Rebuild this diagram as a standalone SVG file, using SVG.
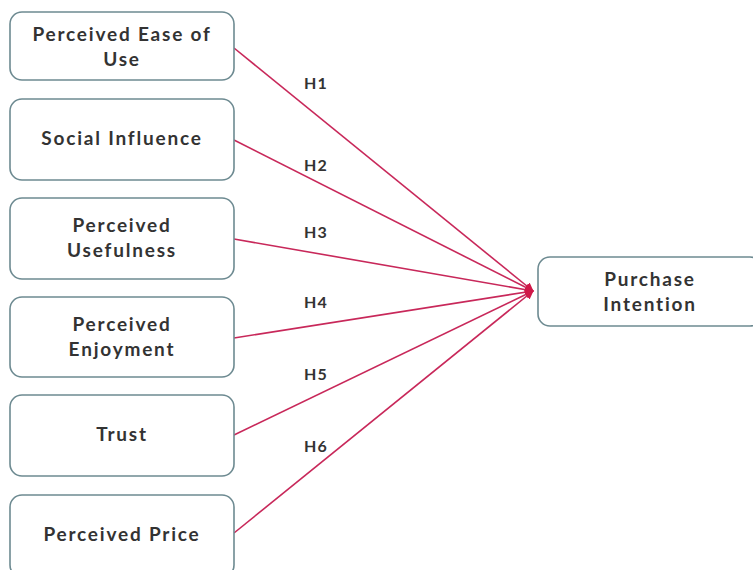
<svg xmlns="http://www.w3.org/2000/svg" width="753" height="570" viewBox="0 0 753 570">
  <style>
    .box { fill: #ffffff; stroke: #6d8a91; stroke-width: 1.6; }
    .lbl { font-family: Lato, "Open Sans", "Liberation Sans", sans-serif; font-weight: bold; font-size: 19px; letter-spacing: 1.8px; fill: #333333; text-anchor: middle; }
    .h { font-family: Lato, "Open Sans", "Liberation Sans", sans-serif; font-weight: bold; font-size: 16px; letter-spacing: 1.2px; fill: #333333; text-anchor: middle; }
    .edge { stroke: #c8285a; stroke-width: 1.6; fill: none; marker-end: url(#tip); }
  </style>
  <defs>
    <marker id="tip" viewBox="0 0 10 10" refX="9" refY="5" markerWidth="5.5" markerHeight="5.5" orient="auto" markerUnits="strokeWidth">
      <path d="M0,0 L10,5 L0,10 z" fill="#d01848"/>
    </marker>
  </defs>
  <rect width="753" height="570" fill="#ffffff"/>

  <g id="connectors">
    <line class="edge" x1="234" y1="48" x2="533" y2="291"/>
    <line class="edge" x1="234" y1="140" x2="533" y2="291"/>
    <line class="edge" x1="234" y1="239" x2="533" y2="291"/>
    <line class="edge" x1="234" y1="338" x2="533" y2="291"/>
    <line class="edge" x1="234" y1="435" x2="533" y2="291"/>
    <line class="edge" x1="234" y1="533" x2="533" y2="291"/>
    <text class="h" x="316" y="89">H1</text>
    <text class="h" x="316" y="171">H2</text>
    <text class="h" x="316" y="238">H3</text>
    <text class="h" x="316" y="308">H4</text>
    <text class="h" x="316" y="380">H5</text>
    <text class="h" x="316" y="452">H6</text>
  </g>

  <g id="peou">
    <rect class="box" x="10" y="12" width="224" height="68" rx="12"/>
    <text class="lbl" x="122" y="41">Perceived Ease of</text>
    <text class="lbl" x="122" y="66">Use</text>
  </g>
  <g id="social">
    <rect class="box" x="10" y="99" width="224" height="81" rx="12"/>
    <text class="lbl" x="122" y="145">Social Influence</text>
  </g>
  <g id="pu">
    <rect class="box" x="10" y="198" width="224" height="81" rx="12"/>
    <text class="lbl" x="122" y="232">Perceived</text>
    <text class="lbl" x="122" y="257">Usefulness</text>
  </g>
  <g id="pe">
    <rect class="box" x="10" y="297" width="224" height="80" rx="12"/>
    <text class="lbl" x="122" y="331">Perceived</text>
    <text class="lbl" x="122" y="356">Enjoyment</text>
  </g>
  <g id="trust">
    <rect class="box" x="10" y="395" width="224" height="81" rx="12"/>
    <text class="lbl" x="122" y="441">Trust</text>
  </g>
  <g id="price">
    <rect class="box" x="10" y="495" width="224" height="82" rx="12"/>
    <text class="lbl" x="122" y="541">Perceived Price</text>
  </g>
  <g id="pi">
    <rect class="box" x="538" y="257" width="224" height="69" rx="12"/>
    <text class="lbl" x="650" y="286">Purchase</text>
    <text class="lbl" x="650" y="311">Intention</text>
  </g>
</svg>
